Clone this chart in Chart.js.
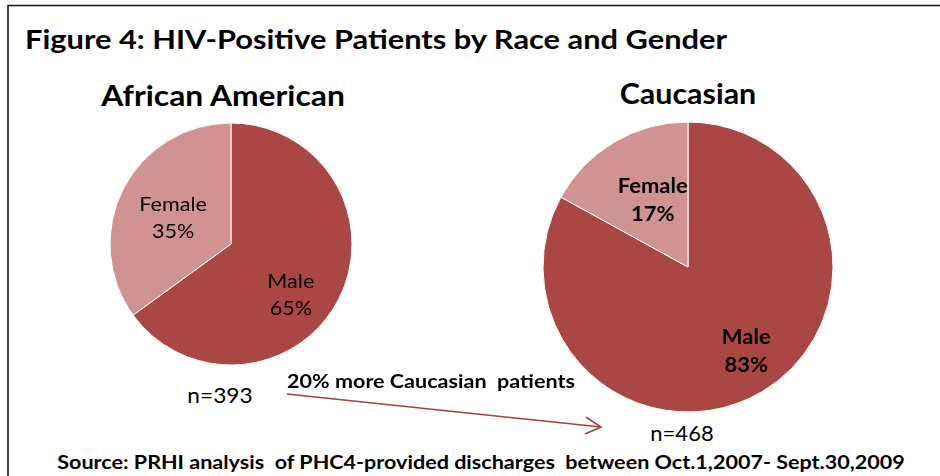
<!DOCTYPE html>
<html>
<head>
<meta charset="utf-8">
<script src="https://cdn.jsdelivr.net/npm/chart.js@4"></script>
<style>
  body { margin: 0; background: #fff; }
  #fig { position: relative; width: 940px; height: 476px; overflow: hidden; font-family: Lato, "Open Sans", sans-serif; color: #000; }
  .t { position: absolute; white-space: pre; transform: translate(-50%, -50%); line-height: 1; }
  .b { font-weight: bold; }
  canvas { position: absolute; }
  svg { position: absolute; left: 0; top: 0; }
</style>
</head>
<body>
<div id="fig">
  <svg width="940" height="476">
    <path d="M8 476 L8 5.5 L940 5.5" fill="none" stroke="#111" stroke-width="1.6"/>
    <path d="M287 394 L601 427" stroke="#a0403d" stroke-width="1.6" fill="none"/>
    <path d="M586 417 L601 427 L585 434" stroke="#a0403d" stroke-width="1.6" fill="none"/>
  </svg>
  <canvas id="aaChart" width="250" height="250" style="left:106px; top:119px;"></canvas>
  <canvas id="caChart" width="300" height="300" style="left:538px; top:117px;"></canvas>
  <div class="t b" data-w="702" style="left:376px; top:38px; font-size:27px;">Figure 4: HIV-Positive Patients by Race and Gender</div>
  <div class="t b" data-w="244" style="left:223px; top:95px; font-size:28px;">African American</div>
  <div class="t b" data-w="137" style="left:688px; top:93px; font-size:28px;">Caucasian</div>
  <div class="t" data-w="65" style="left:220px; top:395px; font-size:22px;">n=393</div>
  <div class="t b" data-w="288" style="left:431px; top:380px; font-size:19px;">20% more Caucasian  patients</div>
  <div class="t" data-w="63" style="left:682px; top:433px; font-size:22px;">n=468</div>
  <div class="t b" data-w="847" style="left:481px; top:462px; font-size:18.5px;">Source: PRHI analysis  of PHC4-provided discharges  between Oct.1,2007- Sept.30,2009</div>
</div>
<script>
const genders = ["Male", "Female"];
const africanAmerican = [65, 35];
const caucasian = [83, 17];
const sliceColors = ["#aa4643", "#d19392"];

// stretch the text boxes to the widths they have in the original figure
document.querySelectorAll(".t[data-w]").forEach(el => {
  const sx = Number(el.dataset.w) / el.offsetWidth;
  el.style.transform = `translate(-50%, -50%) scaleX(${sx.toFixed(3)})`;
});

// draws "Male\n65%" inside each slice
const sliceLabels = {
  id: "sliceLabels",
  afterDatasetsDraw(chart, args, opts) {
    const ctx = chart.ctx;
    const meta = chart.getDatasetMeta(0);
    ctx.save();
    ctx.fillStyle = "#000";
    ctx.textAlign = "center";
    ctx.textBaseline = "middle";
    ctx.font = opts.font;
    meta.data.forEach((arc, i) => {
      const p = arc.getProps(["x", "y", "startAngle", "endAngle", "outerRadius"]);
      const mid = (p.startAngle + p.endAngle) / 2;
      const r = p.outerRadius * opts.frac;
      const n = opts.nudge[i];
      const x = p.x + Math.cos(mid) * r + n[0];
      const y = p.y + Math.sin(mid) * r + n[1];
      const val = chart.data.datasets[0].data[i];
      ctx.save();
      ctx.translate(x, y);
      ctx.scale(opts.sx, 1);
      ctx.fillText(chart.data.labels[i], 0, -opts.gap / 2);
      ctx.fillText(val + "%", 0, opts.gap / 2);
      ctx.restore();
    });
    ctx.restore();
  }
};

function makePie(id, values, radius, labelOpts) {
  return new Chart(id, {
    type: "pie",
    data: {
      labels: genders,
      datasets: [{
        data: values,
        backgroundColor: sliceColors,
        borderColor: "#ffffff",
        borderWidth: 1,
        hoverOffset: 0
      }]
    },
    options: {
      responsive: false,
      animation: false,
      radius: radius,
      layout: { padding: 0 },
      plugins: {
        legend: { display: false },
        tooltip: { enabled: false },
        sliceLabels: labelOpts
      }
    },
    plugins: [sliceLabels]
  });
}

makePie("aaChart", africanAmerican, 121, {
  font: "20px Lato", sx: 1.08, frac: 0.62, gap: 27, nudge: [[-7, 17], [9, 8]]
});
makePie("caChart", caucasian, 145, {
  font: "bold 20px Lato", sx: 1.1, frac: 0.6, gap: 28, nudge: [[14, 10], [9, 8]]
});
</script>
</body>
</html>
